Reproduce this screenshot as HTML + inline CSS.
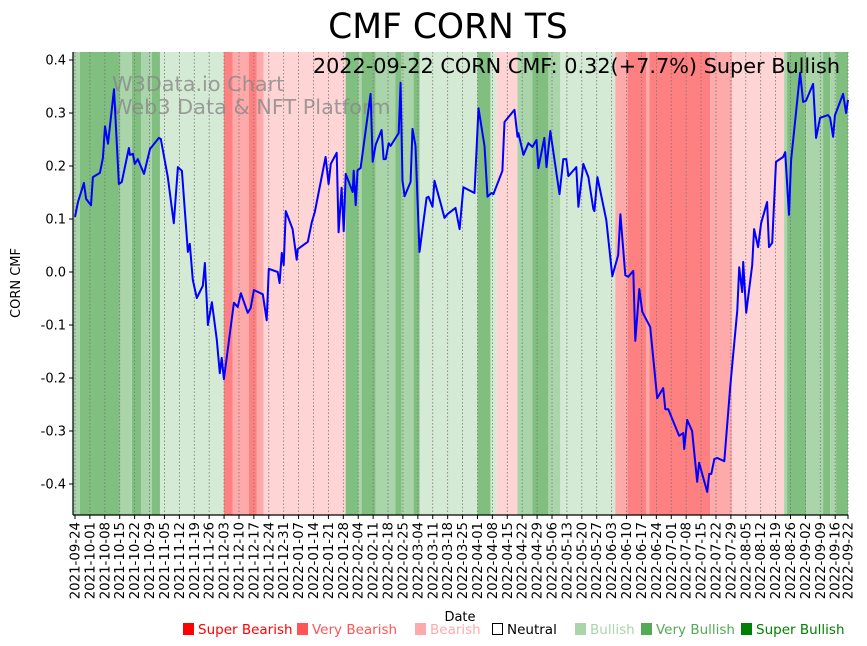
<!DOCTYPE html>
<html><head><meta charset="utf-8">
<style>
html,body{margin:0;padding:0;background:#fff;}
svg{display:block;font-family:"DejaVu Sans","Liberation Sans",sans-serif;}
</style></head>
<body>
<svg id="chart" width="867" height="646" viewBox="0 0 867 646" xmlns="http://www.w3.org/2000/svg">
<text x="448" y="38" font-size="34.5" text-anchor="middle" fill="#000">CMF CORN TS</text>
<g id="bands"></g>
<g id="grid"></g>
<g id="watermark" fill="#888" fill-opacity="0.8" font-size="20.8">
<text x="112" y="91">W3Data.io Chart</text>
<text x="112" y="114">Web3 Data &amp; NFT Platform</text>
</g>
<path id="line" fill="none" stroke="#0000ff" stroke-width="2" stroke-linejoin="round"/>
<text x="840" y="73" font-size="20.8" text-anchor="end" fill="#000">2022-09-22 CORN CMF: 0.32(+7.7%) Super Bullish</text>
<g id="axes"></g>
<text x="0" y="0" font-size="13" text-anchor="middle" transform="translate(20,283) rotate(-90)">CORN CMF</text>
<text x="460" y="621" font-size="13" text-anchor="middle">Date</text>
<g id="legend" font-size="13.5"></g>
</svg>
<script>
// ---- data ----
const days = [0,1.4,4.2,5.2,7.5,8.4,11.7,13.1,14.1,15.5,18.3,20.6,22.0,25.3,25.8,27.2,28.1,29.5,32.4,35.2,39.4,40.3,43.6,46.4,48.3,50.2,53.0,53.9,55.3,57.2,60.0,61.0,62.4,64.3,66.6,68.0,68.9,69.9,74.6,76.4,77.9,81.1,82.5,84.0,88.2,90.0,91.0,95.2,96.1,97.1,98.0,99.0,102.2,104.1,104.6,109.3,111.2,112.6,117.7,119.1,120.1,122.9,123.8,125.2,126.2,127.1,130.4,130.9,131.8,132.7,134.1,138.8,139.8,141.2,144.0,144.9,145.9,147.3,148.2,152.0,152.9,153.8,154.8,157.6,158.5,159.9,161.8,165.1,166.0,167.9,168.8,171.7,173.5,174.9,178.7,180.6,182.4,187.6,189.5,192.3,193.7,195.6,196.5,200.7,201.7,206.4,207.8,208.2,210.6,212.9,214.8,216.7,217.6,220.4,221.4,223.2,227.5,229.3,230.7,231.7,235.4,236.4,238.7,241.1,243.4,243.9,245.3,249.5,252.3,255.1,256.1,258.4,259.8,262.2,263.1,265.0,266.4,270.1,273.4,276.2,277.2,278.6,283.7,285.6,286.1,287.5,289.8,292.2,293.1,296.9,297.8,298.8,300.2,301.6,304.9,307.7,311.0,311.9,313.3,313.8,315.2,318.0,318.9,320.8,322.2,325.0,325.9,327.4,329.2,332.5,333.5,335.3,336.3,340.5,341.9,343.3,346.6,348.0,349.9,353.6,354.6,356.0,356.9,360.7,362.1,363.0];
const cmf = [0.104,0.132,0.168,0.138,0.126,0.179,0.187,0.215,0.275,0.242,0.345,0.166,0.170,0.234,0.221,0.223,0.204,0.213,0.185,0.232,0.253,0.251,0.179,0.092,0.198,0.191,0.038,0.053,-0.015,-0.049,-0.026,0.017,-0.100,-0.057,-0.128,-0.191,-0.162,-0.202,-0.058,-0.066,-0.040,-0.077,-0.068,-0.034,-0.042,-0.091,0.006,0,-0.021,0.036,0.013,0.115,0.081,0.023,0.043,0.057,0.094,0.113,0.217,0.166,0.204,0.225,0.075,0.159,0.077,0.185,0.151,0.191,0.126,0.192,0.196,0.336,0.208,0.240,0.268,0.213,0.213,0.243,0.238,0.262,0.357,0.172,0.143,0.170,0.270,0.238,0.038,0.140,0.142,0.123,0.172,0.130,0.102,0.109,0.121,0.081,0.160,0.149,0.309,0.238,0.142,0.149,0.147,0.191,0.283,0.306,0.255,0.262,0.221,0.243,0.236,0.249,0.196,0.253,0.198,0.266,0.147,0.213,0.213,0.181,0.198,0.123,0.204,0.179,0.119,0.115,0.179,0.098,-0.008,0.032,0.109,-0.006,-0.009,0.002,-0.130,-0.032,-0.075,-0.104,-0.238,-0.219,-0.259,-0.259,-0.309,-0.304,-0.334,-0.279,-0.300,-0.396,-0.360,-0.415,-0.381,-0.381,-0.353,-0.351,-0.357,-0.217,-0.072,0.009,-0.038,0.019,-0.077,0.013,0.081,0.047,0.092,0.132,0.047,0.055,0.208,0.217,0.226,0.108,0.211,0.376,0.321,0.323,0.355,0.253,0.291,0.296,0.291,0.255,0.296,0.336,0.300,0.325];
const bandEnds = [2.3,21.1,26.7,31.0,36.1,39.9,69.9,74.1,81.6,85.4,88.6,127.1,133.2,134.6,141.2,150.5,153.4,159.0,161.8,189.0,195.1,198.0,207.8,214.8,222.3,227.9,253.7,259.4,268.3,269.7,298.3,308.6,333.0,334.4,343.3,351.3,354.6,357.4,363.5];
const bandLevels = [2,3,2,3,2,3,1,-3,-2,-3,-2,-1,3,2,3,2,3,2,3,1,3,1,-1,2,3,2,1,-2,-3,-2,-3,-2,-1,2,3,2,3,2,3];
const tickLabels = ["2021-09-24","2021-10-01","2021-10-08","2021-10-15","2021-10-22","2021-10-29","2021-11-05","2021-11-12","2021-11-19","2021-11-26","2021-12-03","2021-12-10","2021-12-17","2021-12-24","2021-12-31","2022-01-07","2022-01-14","2022-01-21","2022-01-28","2022-02-04","2022-02-11","2022-02-18","2022-02-25","2022-03-04","2022-03-11","2022-03-18","2022-03-25","2022-04-01","2022-04-08","2022-04-15","2022-04-22","2022-04-29","2022-05-06","2022-05-13","2022-05-20","2022-05-27","2022-06-03","2022-06-10","2022-06-17","2022-06-24","2022-07-01","2022-07-08","2022-07-15","2022-07-22","2022-07-29","2022-08-05","2022-08-12","2022-08-19","2022-08-26","2022-09-02","2022-09-09","2022-09-16","2022-09-22"];
const tickDays = [0,7,14,21,28,35,42,49,56,63,70,77,84,91,98,105,112,119,126,133,140,147,154,161,168,175,182,189,196,203,210,217,224,231,238,245,252,259,266,273,280,287,294,301,308,315,322,329,336,343,350,357,363];
const yTicks = [0.4,0.3,0.2,0.1,0.0,-0.1,-0.2,-0.3,-0.4];
const legendNames = ["Super Bearish","Very Bearish","Bearish","Neutral","Bullish","Very Bullish","Super Bullish"];

// ---- scales ----
const X0=75, X1=848, D0=0, D1=363;
const PL=73, PR=848, PT=52, PB=515;
function xs(d){return X0+(d-D0)*(X1-X0)/(D1-D0);}
function ys(v){return 272-v*530;}
const NS="http://www.w3.org/2000/svg";
function mk(tag,attrs,parent){const e=document.createElementNS(NS,tag);for(const k in attrs)e.setAttribute(k,attrs[k]);parent.appendChild(e);return e;}
const bandColor={"3":"#80bf80","2":"#aad4aa","1":"#d4ead4","-1":"#ffd4d4","-2":"#ffaaaa","-3":"#ff8080"};

// bands
const bandsG=document.getElementById('bands');
let prev=-0.8;
bandEnds.forEach((e,i)=>{
  const x1=Math.max(PL,xs(prev)), x2=Math.min(PR,xs(e));
  const r=mk('rect',{x:x1,y:PT,width:Math.max(0,x2-x1),height:PB-PT,fill:bandColor[String(bandLevels[i])]},bandsG);
  
  
  prev=e;
});

// grid + x ticks
const gridG=document.getElementById('grid');
const axesG=document.getElementById('axes');
tickDays.forEach((d,i)=>{
  const x=xs(d);
  const g=mk('line',{x1:x,x2:x,y1:PT,y2:PB,stroke:'#777','stroke-width':0.8,'stroke-dasharray':'1.5,2'},gridG);
  
  
  const t=mk('line',{x1:x,x2:x,y1:PB,y2:PB+4,stroke:'#000','stroke-width':1},axesG);
  
  
  const l=mk('text',{x:0,y:0,'font-size':13.3,'text-anchor':'end',transform:`translate(${x+4.5},${PB+7}) rotate(-90)`},axesG);
  l.textContent=tickLabels[i];
  
  
});
// y ticks
yTicks.forEach(v=>{
  const y=ys(v);
  const t=mk('line',{x1:PL-4,x2:PL,y1:y,y2:y,stroke:'#000','stroke-width':1},axesG);
  
  
  const l=mk('text',{x:PL-7,y:y+4.5,'font-size':13,'text-anchor':'end'},axesG);
  l.textContent=v.toFixed(1);
  
  
});
const sp1=mk('line',{x1:PL,x2:PL,y1:PT,y2:PB,stroke:'#000','stroke-width':1.2},axesG);


const sp2=mk('line',{x1:PL,x2:PR,y1:PB,y2:PB,stroke:'#000','stroke-width':1.2},axesG);



// line
document.getElementById('line').setAttribute('d',days.map((d,i)=>(i?'L':'M')+xs(d).toFixed(1)+','+ys(cmf[i]).toFixed(1)).join(''));

// legend
const legG=document.getElementById('legend');
const legX=[183,297,415,492,575,641,741];
const legCol=["#ff0000","#ff5555","#ffaaaa","#000","#aad4aa","#55aa55","#008000"];
legendNames.forEach((n,i)=>{
  const g=mk('g',{},legG);
  
  
  const x=legX[i];
  if(i===3) mk('rect',{x:x+0.5,y:623.5,width:10,height:11,fill:'none',stroke:'#000'},g);
  else mk('rect',{x:x,y:623,width:11,height:12,fill:legCol[i]},g);
  const t=mk('text',{x:x+15,y:634,fill:legCol[i]},g);
  t.textContent=n;
});
</script>
</body></html>
